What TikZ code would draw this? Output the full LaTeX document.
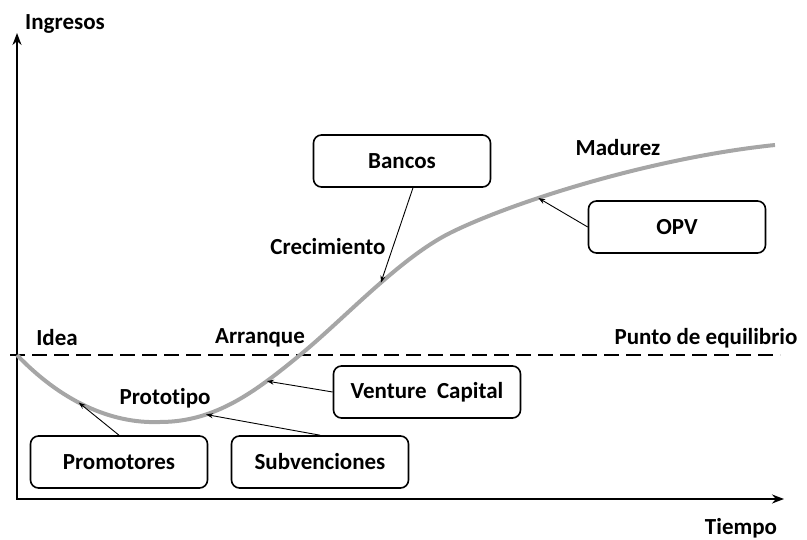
\documentclass[tikz,border=0pt]{standalone}
\usepackage{fontspec}
\setmainfont{Carlito}[Ligatures={NoCommon,NoContextual}]
\usetikzlibrary{arrows.meta}

\begin{document}
\begin{tikzpicture}[x=1pt,y=-1pt,
  box/.style={draw,rounded corners=8pt,line width=1.6pt,minimum width=177pt,minimum height=52pt,font=\fontsize{23}{27}\selectfont\bfseries},
  lbl/.style={font=\fontsize{23}{27}\selectfont\bfseries,inner sep=0pt},
  feed/.style={-{Stealth[length=7pt,width=5pt]},line width=0.9pt}]
\useasboundingbox (0,0) rectangle (807,540);
% axes
\coordinate (o) at (17,499);
\coordinate (ytop) at (17,33);
\coordinate (xend) at (784,499);
\draw[{Stealth[length=12pt,width=9pt]}-{Stealth[length=12pt,width=9pt]},line width=1.8pt] (ytop) -- (o) -- (xend);
\node[lbl] (ingresos) at (65,24) {Ingresos};
\node[lbl] (tiempo) at (741,528) {Tiempo};
% break-even line
\coordinate (eq0) at (10,355);
\coordinate (eq1) at (780,355);
\draw[line width=1.6pt,dash pattern=on 15pt off 7pt] (eq0) -- (eq1);
% curve
\draw[gray!70,line width=4pt] (17,355)
  .. controls (60,400) and (110,424) .. coordinate[pos=0.45] (cprom) (160,422)
  .. controls (215,422) and (255,392) .. coordinate[pos=0.3] (csub) coordinate[pos=0.75] (cvc) (300,355)
  .. controls (345,318) and (400,258) .. coordinate[pos=0.55] (cban) (450,233)
  .. controls (510,203) and (650,158) .. coordinate[pos=0.35] (copv) (775,145);
% stages
\node[lbl] (idea) at (57,338) {Idea};
\node[lbl] (arranque) at (260,338) {Arranque};
\node[lbl] (punto) at (706,338) {Punto de equilibrio};
\node[lbl] (proto) at (165,398) {Prototipo};
\node[lbl] (crec) at (328,247) {Crecimiento};
\node[lbl] (madurez) at (618,148) {Madurez};
% sources of funding
\node[box] (bancos) at (402,161) {Bancos};
\node[box] (opv) at (677,227) {OPV};
\node[box,minimum width=187pt] (vc) at (427,392) {Venture\ \ Capital};
\node[box] (prom) at (119,462) {Promotores};
\node[box] (subv) at (320,462) {Subvenciones};
\draw[feed] ([xshift=11pt]bancos.south) -- (cban);
\draw[feed] (opv.west) -- (copv);
\draw[feed] (vc.west) -- (cvc);
\draw[feed] (prom.north) -- (cprom);
\draw[feed] (subv.north) -- (csub);
\end{tikzpicture}
\end{document}
